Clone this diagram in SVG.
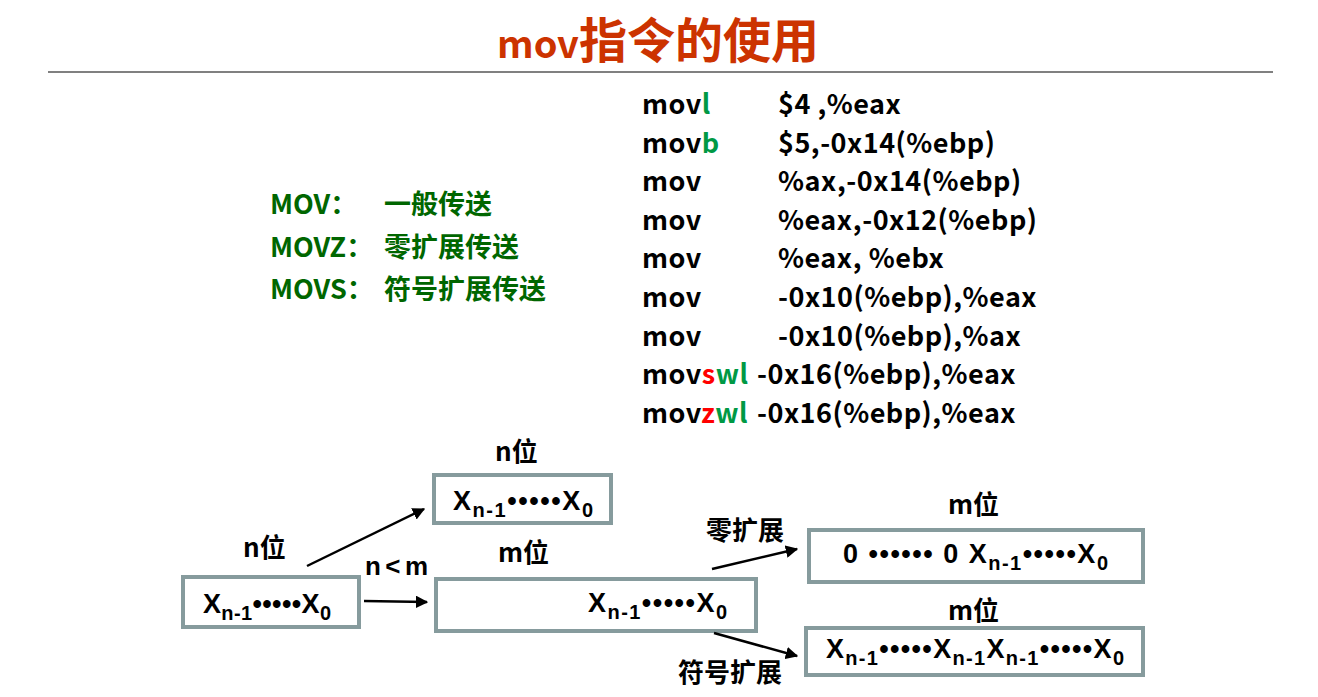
<svg xmlns="http://www.w3.org/2000/svg" width="1318" height="697" viewBox="0 0 1318 697">
  <style>
    .title { font-family: "Noto Sans CJK SC", "Liberation Sans", sans-serif; font-weight: bold; fill: #CC3300; }
    .code { font-family: "Noto Sans CJK SC", "Liberation Sans", sans-serif; font-weight: bold; font-size: 27px; letter-spacing: 0.5px; fill: #000; }
    .suffix { fill: #009944; }
    .red { fill: #FF0000; }
    .kind { font-family: "Noto Sans CJK SC", "Liberation Sans", sans-serif; font-weight: bold; font-size: 27px; fill: #006600; }
    .lbl { font-family: "Liberation Sans", "Noto Sans CJK SC", sans-serif; font-weight: bold; font-size: 26px; fill: #000; }
    .cjk { font-family: "Noto Sans CJK SC", sans-serif; font-weight: bold; font-size: 26px; fill: #000; }
    .bits { font-family: "Liberation Sans", "DejaVu Sans", sans-serif; font-weight: bold; font-size: 27px; fill: #000; }
    .sub { font-size: 20px; }
    .box { fill: #fff; stroke: #869B9D; stroke-width: 4; }
    .arrow { stroke: #000; stroke-width: 2.5; fill: none; marker-end: url(#head); }
  </style>
  <defs>
    <marker id="head" viewBox="0 0 10 10" refX="9" refY="5" markerWidth="5" markerHeight="5" orient="auto" markerUnits="strokeWidth">
      <path d="M0,0 L10,5 L0,10 z" fill="#000"/>
    </marker>
  </defs>

  <rect width="1318" height="697" fill="#fff"/>

  <!-- heading -->
  <g id="title">
    <text class="title" x="497" y="58" font-size="48"><tspan font-size="38">mov</tspan>指令的使用</text>
    <line x1="48" y1="72" x2="1273" y2="72" stroke="#808080" stroke-width="2"/>
  </g>

  <!-- instruction examples -->
  <g id="code">
    <text class="code" x="642" y="114">mov<tspan class="suffix">l</tspan></text>
    <text class="code" x="778" y="114">$4 ,%eax</text>
    <text class="code" x="642" y="153">mov<tspan class="suffix">b</tspan></text>
    <text class="code" x="778" y="153">$5,-0x14(%ebp)</text>
    <text class="code" x="642" y="191">mov</text>
    <text class="code" x="778" y="191">%ax,-0x14(%ebp)</text>
    <text class="code" x="642" y="230">mov</text>
    <text class="code" x="778" y="230">%eax,-0x12(%ebp)</text>
    <text class="code" x="642" y="268">mov</text>
    <text class="code" x="778" y="268">%eax, %ebx</text>
    <text class="code" x="642" y="307">mov</text>
    <text class="code" x="778" y="307">-0x10(%ebp),%eax</text>
    <text class="code" x="642" y="346">mov</text>
    <text class="code" x="778" y="346">-0x10(%ebp),%ax</text>
    <text class="code" x="642" y="384">mov<tspan class="red">s</tspan><tspan class="suffix">wl</tspan></text>
    <text class="code" x="757" y="384">-0x16(%ebp),%eax</text>
    <text class="code" x="642" y="423">mov<tspan class="red">z</tspan><tspan class="suffix">wl</tspan></text>
    <text class="code" x="757" y="423">-0x16(%ebp),%eax</text>
  </g>

  <!-- instruction kinds -->
  <g id="kinds">
    <text class="kind" x="270" y="214">MOV：</text>
    <text class="kind" x="384" y="214">一般传送</text>
    <text class="kind" x="270" y="257">MOVZ：</text>
    <text class="kind" x="384" y="257">零扩展传送</text>
    <text class="kind" x="270" y="299">MOVS：</text>
    <text class="kind" x="384" y="299">符号扩展传送</text>
  </g>

  <!-- source operand, n bits -->
  <g id="node-src">
    <rect class="box" x="183" y="577" width="176" height="50"/>
    <text class="cjk" x="243" y="557">n位</text>
    <text class="bits" x="203" y="613" textLength="128" lengthAdjust="spacing">X<tspan class="sub" dy="7">n-1</tspan><tspan dy="-7">•••••X</tspan><tspan class="sub" dy="7">0</tspan></text>
  </g>

  <!-- destination, same width -->
  <g id="node-same">
    <rect class="box" x="434" y="475" width="177" height="48"/>
    <text class="cjk" x="495" y="461">n位</text>
    <text class="bits" x="453" y="510" textLength="140" lengthAdjust="spacing">X<tspan class="sub" dy="7">n-1</tspan><tspan dy="-7">•••••X</tspan><tspan class="sub" dy="7">0</tspan></text>
  </g>

  <!-- destination, wider -->
  <g id="node-wide">
    <rect class="box" x="436" y="579" width="320" height="52"/>
    <text class="cjk" x="498" y="562">m位</text>
    <text class="bits" x="588" y="612" textLength="139" lengthAdjust="spacing">X<tspan class="sub" dy="7">n-1</tspan><tspan dy="-7">•••••X</tspan><tspan class="sub" dy="7">0</tspan></text>
  </g>

  <!-- zero extension result -->
  <g id="node-zero">
    <rect class="box" x="809" y="530" width="334" height="52"/>
    <text class="cjk" x="948" y="514">m位</text>
    <text class="bits" x="843" y="563" textLength="265" lengthAdjust="spacing">0 •••••• 0  X<tspan class="sub" dy="7">n-1</tspan><tspan dy="-7">•••••X</tspan><tspan class="sub" dy="7">0</tspan></text>
  </g>

  <!-- sign extension result -->
  <g id="node-sign">
    <rect class="box" x="806" y="628" width="337" height="47"/>
    <text class="cjk" x="948" y="620">m位</text>
    <text class="bits" x="826" y="658" textLength="298" lengthAdjust="spacing">X<tspan class="sub" dy="7">n-1</tspan><tspan dy="-7">•••••X</tspan><tspan class="sub" dy="7">n-1</tspan><tspan dy="-7">X</tspan><tspan class="sub" dy="7">n-1</tspan><tspan dy="-7">•••••X</tspan><tspan class="sub" dy="7">0</tspan></text>
  </g>

  <!-- connectors -->
  <g id="connectors">
    <line class="arrow" x1="307" y1="566" x2="424" y2="509"/>
    <line class="arrow" x1="364" y1="601" x2="427" y2="602"/>
    <line class="arrow" x1="712" y1="569" x2="797" y2="549"/>
    <line class="arrow" x1="714" y1="633" x2="797" y2="656"/>
    <text class="lbl" x="365" y="575" textLength="63" lengthAdjust="spacing">n&lt;m</text>
    <text class="cjk" x="706" y="540" font-size="27">零扩展</text>
    <text class="cjk" x="678" y="682" font-size="27">符号扩展</text>
  </g>
</svg>
